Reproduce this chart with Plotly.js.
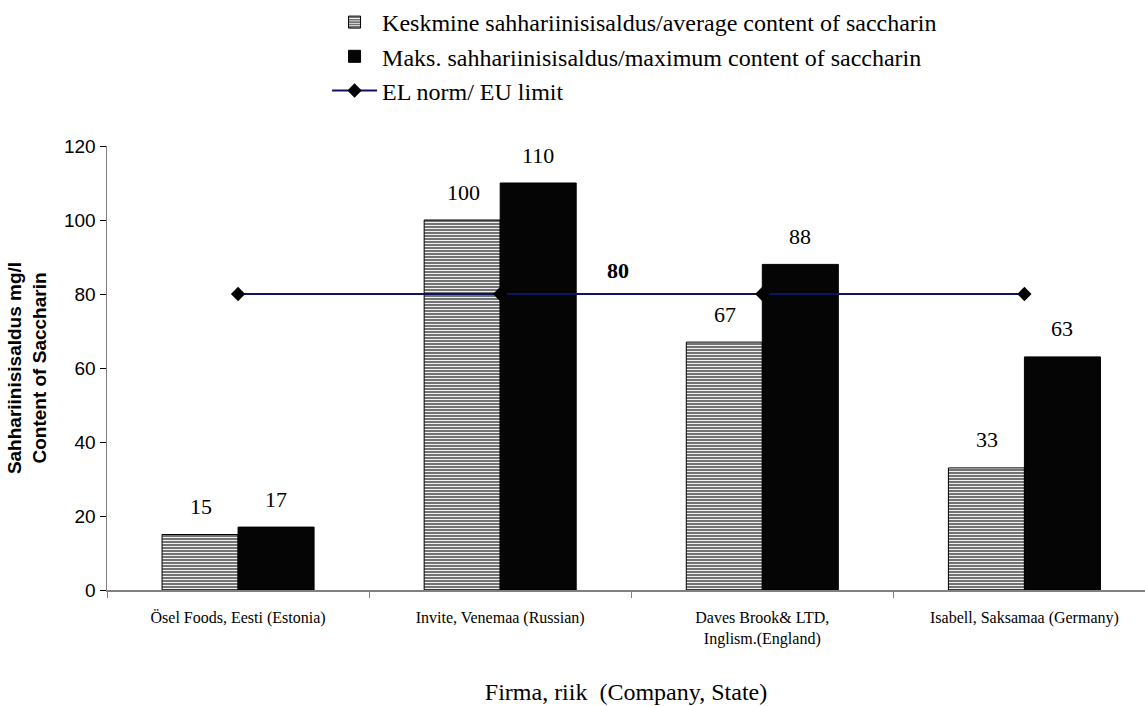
<!DOCTYPE html>
<html>
<head>
<meta charset="utf-8">
<script src="https://cdn.plot.ly/plotly-3.0.1.min.js"></script>
<style>html,body{margin:0;padding:0;background:#fff;}#chart{width:1145px;height:706px;}</style>
</head>
<body>
<div id="chart"></div>
<script>
const categories = ["Ösel Foods, Eesti (Estonia)", "Invite, Venemaa (Russian)", "Daves Brook& LTD,<br>Inglism.(England)", "Isabell, Saksamaa (Germany)"];
const averageContent = [15, 100, 67, 33];
const maximumContent = [17, 110, 88, 63];
const euLimit = [80, 80, 80, 80];
const seriesNames = ["Keskmine sahhariinisisaldus/average content of saccharin", "Maks. sahhariinisisaldus/maximum content of saccharin", "EL norm/ EU limit"];
const yTicks = [0, 20, 40, 60, 80, 100, 120];

const serif = "Liberation Serif, Times New Roman, serif";
const sans = "Liberation Sans, Arial, sans-serif";

const traces = [
  {
    type: "bar", x: categories, y: averageContent, name: seriesNames[0],
    marker: {color: "#ffffff", line: {color: "#000000", width: 1},
      pattern: {shape: "-", fgcolor: "#ffffff", bgcolor: "#737373", size: 3, solidity: 0.3}},
    hoverinfo: "y"
  },
  {
    type: "bar", x: categories, y: maximumContent, name: seriesNames[1],
    marker: {color: "#050505", line: {color: "#000000", width: 1}},
    hoverinfo: "y"
  },
  {
    type: "scatter", mode: "lines+markers", x: categories, y: euLimit, name: seriesNames[2],
    line: {color: "#0d1466", width: 2},
    marker: {symbol: "diamond", color: "#000000", size: 11}
  }
];

const annotations = [];
categories.forEach((c, i) => {
  annotations.push({x: c, y: averageContent[i], xref: "x", yref: "y", text: String(averageContent[i]),
    showarrow: false, xshift: -37, yshift: 28, font: {family: serif, size: 22, color: "#000"}});
  annotations.push({x: c, y: maximumContent[i], xref: "x", yref: "y", text: String(maximumContent[i]),
    showarrow: false, xshift: 38, yshift: 28, font: {family: serif, size: 22, color: "#000"}});
});
annotations.push({x: 1.45, y: euLimit[1], xref: "x", yref: "y", text: "<b>" + euLimit[1] + "</b>",
  showarrow: false, yshift: 24, font: {family: serif, size: 22, color: "#000"}});

const layout = {
  width: 1145, height: 706,
  margin: {l: 107, r: 0, t: 146, b: 116},
  paper_bgcolor: "#ffffff", plot_bgcolor: "#ffffff",
  barmode: "group", bargap: 0.42, bargroupgap: 0,
  showlegend: true,
  legend: {x: 0.212, y: 1.33, xanchor: "left", yanchor: "top", orientation: "v",
    font: {family: serif, size: 24, color: "#000"}, itemwidth: 45, tracegroupgap: 0,
    bgcolor: "rgba(0,0,0,0)", traceorder: "normal"},
  xaxis: {
    type: "category", range: [-0.5, 3.46],
    showline: true, linecolor: "#808080", linewidth: 1.5,
    ticks: "outside", tickson: "boundaries", ticklen: 6, tickcolor: "#808080",
    tickfont: {family: serif, size: 16, color: "#000"}, ticklabelstandoff: 12,
    showgrid: false, zeroline: false,
    title: {text: "Firma, riik  (Company, State)", font: {family: serif, size: 24, color: "#000"}, standoff: 36}
  },
  yaxis: {
    range: [0, 120], tickvals: yTicks, ticktext: yTicks.map(String),
    showline: true, linecolor: "#808080", linewidth: 1.5,
    ticks: "outside", ticklen: 6, tickcolor: "#000",
    tickfont: {family: sans, size: 19, color: "#000"},
    showgrid: false, zeroline: false,
    title: {text: "<b>Sahhariinisisaldus mg/l<br>Content of Saccharin</b>", font: {family: sans, size: 19, color: "#000"}, standoff: 12}
  },
  annotations: annotations
};

Plotly.newPlot("chart", traces, layout, {displayModeBar: false, staticPlot: true});
</script>
</body>
</html>
